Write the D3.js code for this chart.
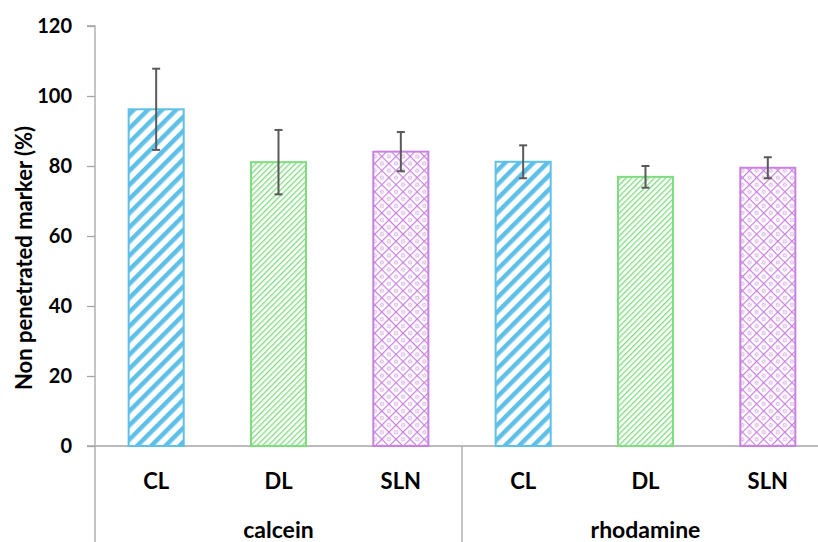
<!DOCTYPE html>
<html>
<head>
<meta charset="utf-8">
<script src="https://cdn.jsdelivr.net/npm/d3@7"></script>
<style>
  body { margin: 0; background: #fff; }
  text { font-family: Lato, "Open Sans", sans-serif; font-weight: bold; fill: #000; }
</style>
</head>
<body>
<script>
// data
var groups = ['calcein', 'rhodamine'];
var formulations = ['CL', 'DL', 'SLN'];
var values = [96.2, 81.1, 84.1, 81.2, 76.9, 79.5];
var errors = [11.6, 9.2, 5.6, 4.7, 3.1, 3.0];
var yTicks = [0, 20, 40, 60, 80, 100, 120];

var width = 818, height = 542;
var plotLeft = 95, plotBottom = 446, plotTop = 26;

var rows = [];
groups.forEach(function (g, gi) {
    formulations.forEach(function (f, fi) {
        var i = gi * formulations.length + fi;
        rows.push({ key: g + '-' + f, group: g, name: f, value: values[i], err: errors[i] });
    });
});

var colors = { CL: '#5ec0e8', DL: '#7fdc7f', SLN: '#c981e0' };

var x = d3.scaleBand()
    .domain(rows.map(function (d) { return d.key; }))
    .range([plotLeft, plotLeft + 122.33 * rows.length])
    .paddingInner(0.55)
    .paddingOuter(0.275);

var y = d3.scaleLinear().domain([0, 120]).range([plotBottom, plotTop]);

var svg = d3.select('body').append('svg')
    .attr('width', width)
    .attr('height', height);

// fill patterns
var defs = svg.append('defs');

var p1 = defs.append('pattern').attr('id', 'pat-CL')
    .attr('patternUnits', 'userSpaceOnUse').attr('width', 10).attr('height', 10)
    .attr('patternTransform', 'rotate(45)');
p1.append('rect').attr('width', 10).attr('height', 10).attr('fill', '#fff');
p1.append('rect').attr('x', 0).attr('width', 4.5).attr('height', 10).attr('fill', colors.CL);

var p2 = defs.append('pattern').attr('id', 'pat-DL')
    .attr('patternUnits', 'userSpaceOnUse').attr('width', 4).attr('height', 4)
    .attr('patternTransform', 'rotate(45)');
p2.append('rect').attr('width', 4).attr('height', 4).attr('fill', '#fff');
p2.append('rect').attr('width', 1.3).attr('height', 4).attr('fill', colors.DL);

var p3 = defs.append('pattern').attr('id', 'pat-SLN')
    .attr('patternUnits', 'userSpaceOnUse').attr('width', 10).attr('height', 10)
    .attr('patternTransform', 'rotate(45)');
p3.append('rect').attr('width', 10).attr('height', 10).attr('fill', '#fff');
p3.append('rect').attr('width', 1.2).attr('height', 10).attr('fill', colors.SLN);
p3.append('rect').attr('width', 10).attr('height', 1.2).attr('fill', colors.SLN);
p3.append('circle').attr('cx', 5.6).attr('cy', 5.6).attr('r', 1.6)
    .attr('fill', 'none').attr('stroke', colors.SLN).attr('stroke-width', 0.8);

// y axis
var yAxis = svg.append('g')
    .attr('transform', 'translate(' + plotLeft + ',0)')
    .call(d3.axisLeft(y).tickValues(yTicks).tickSize(8).tickPadding(15));
yAxis.select('.domain').attr('stroke', '#a6a6a6').attr('stroke-width', 1.3)
    .attr('d', 'M-8,' + plotTop + 'H0V' + height);
yAxis.selectAll('.tick line').attr('stroke', '#a6a6a6').attr('stroke-width', 1.3);
yAxis.selectAll('.tick text').style('font-size', '20px');

// x axis line and group separators
svg.append('line')
    .attr('x1', plotLeft - 8).attr('x2', width).attr('y1', plotBottom).attr('y2', plotBottom)
    .attr('stroke', '#a6a6a6').attr('stroke-width', 1.3);

var groupWidth = x.step() * formulations.length;
groups.forEach(function (g, gi) {
    var gx = plotLeft + gi * groupWidth;
    if (gi > 0) {
        svg.append('line')
            .attr('x1', gx).attr('x2', gx).attr('y1', plotBottom).attr('y2', height)
            .attr('stroke', '#a6a6a6').attr('stroke-width', 1.3);
    }
    svg.append('text')
        .attr('x', gx + groupWidth / 2).attr('y', 538)
        .attr('text-anchor', 'middle')
        .style('font-size', '23px')
        .text(g);
});

// category labels
svg.selectAll('.cat')
    .data(rows)
    .enter().append('text')
    .attr('class', 'cat')
    .attr('x', function (d) { return x(d.key) + x.bandwidth() / 2; })
    .attr('y', 489)
    .attr('text-anchor', 'middle')
    .style('font-size', '22px')
    .text(function (d) { return d.name; });

// bars
svg.selectAll('.bar')
    .data(rows)
    .enter().append('rect')
    .attr('class', 'bar')
    .attr('x', function (d) { return x(d.key); })
    .attr('y', function (d) { return y(d.value); })
    .attr('width', x.bandwidth())
    .attr('height', function (d) { return y(0) - y(d.value); })
    .attr('fill', function (d) { return 'url(#pat-' + d.name + ')'; })
    .attr('stroke', function (d) { return colors[d.name]; })
    .attr('stroke-width', 2);

// error bars
var eb = svg.selectAll('.err')
    .data(rows)
    .enter().append('g')
    .attr('class', 'err')
    .attr('stroke', '#595959')
    .attr('stroke-width', 2);
eb.append('line')
    .attr('x1', function (d) { return x(d.key) + x.bandwidth() / 2; })
    .attr('x2', function (d) { return x(d.key) + x.bandwidth() / 2; })
    .attr('y1', function (d) { return y(d.value + d.err); })
    .attr('y2', function (d) { return y(d.value - d.err); });
eb.append('line')
    .attr('x1', function (d) { return x(d.key) + x.bandwidth() / 2 - 4; })
    .attr('x2', function (d) { return x(d.key) + x.bandwidth() / 2 + 4; })
    .attr('y1', function (d) { return y(d.value + d.err); })
    .attr('y2', function (d) { return y(d.value + d.err); });
eb.append('line')
    .attr('x1', function (d) { return x(d.key) + x.bandwidth() / 2 - 4; })
    .attr('x2', function (d) { return x(d.key) + x.bandwidth() / 2 + 4; })
    .attr('y1', function (d) { return y(d.value - d.err); })
    .attr('y2', function (d) { return y(d.value - d.err); });

// y axis title
svg.append('text')
    .attr('transform', 'translate(32,' + ((plotTop + plotBottom) / 2 + 22) + ') rotate(-90)')
    .attr('text-anchor', 'middle')
    .style('font-size', '22px')
    .text('Non penetrated marker (%)');
</script>
</body>
</html>
